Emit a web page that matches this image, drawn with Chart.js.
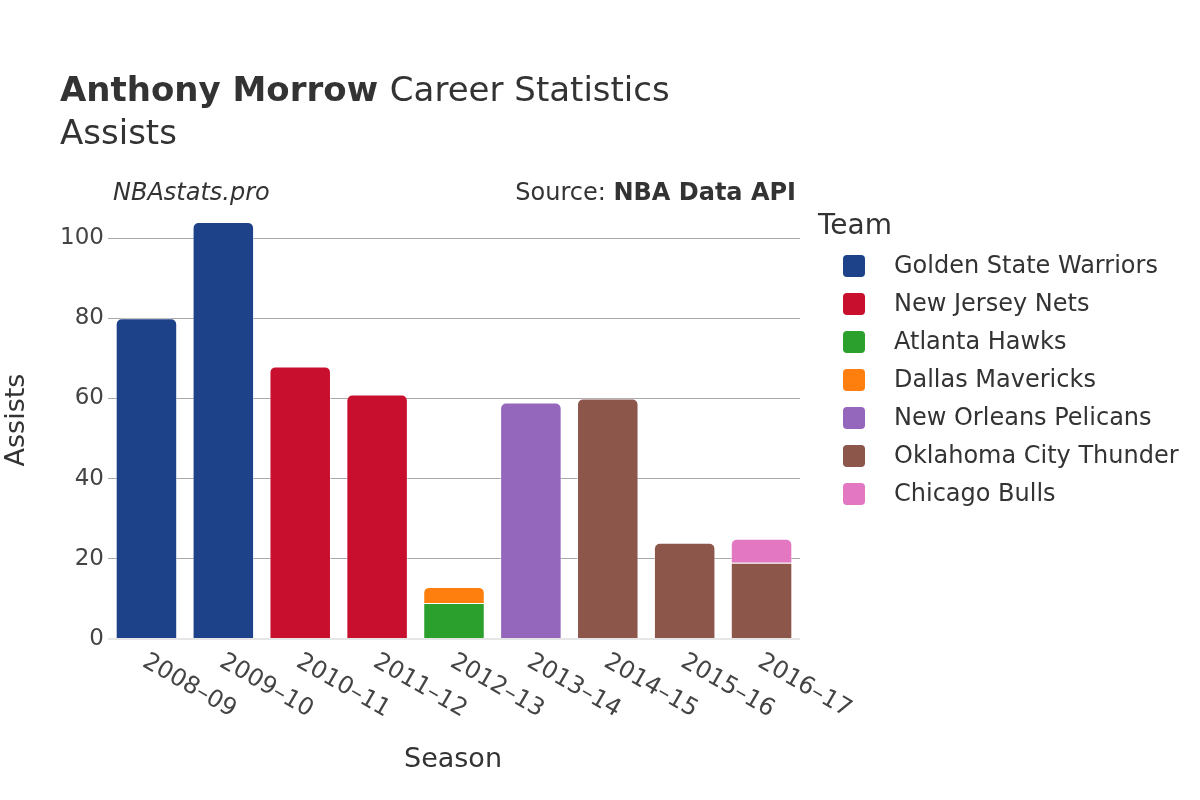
<!DOCTYPE html>
<html>
<head>
<meta charset="utf-8">
<script src="https://cdn.jsdelivr.net/npm/chart.js@4/dist/chart.umd.min.js"></script>
<style>
  html, body { margin: 0; background: #fff; }
</style>
</head>
<body>
<canvas id="chart" width="1200" height="800"></canvas>
<script>
const seasons = ['2008–09', '2009–10', '2010–11', '2011–12', '2012–13', '2013–14', '2014–15', '2015–16', '2016–17'];
const teams = ['Golden State Warriors', 'New Jersey Nets', 'Atlanta Hawks', 'Dallas Mavericks', 'New Orleans Pelicans', 'Oklahoma City Thunder', 'Chicago Bulls'];
const teamColors = ['#1d428a', '#c8102e', '#2ca02c', '#ff7f0e', '#9467bd', '#8c564b', '#e377c2'];

const warriors = [80, 104, null, null, null, null, null, null, null];
const nets = [null, null, 68, 61, null, null, null, null, null];
const hawks = [null, null, null, null, 9, null, null, null, null];
const mavericks = [null, null, null, null, 4, null, null, null, null];
const pelicans = [null, null, null, null, null, 59, null, null, null];
const thunder = [null, null, null, null, null, null, 60, 24, 19];
const bulls = [null, null, null, null, null, null, null, null, 6];

const yTicks = [0, 20, 40, 60, 80, 100];
const seriesValues = [warriors, nets, hawks, mavericks, pelicans, thunder, bulls];

const FONT = 'DejaVu Sans';
const TEXT = '#333';

const datasets = teams.map((team, i) => ({
    label: team,
    data: seriesValues[i],
    backgroundColor: teamColors[i],
    borderColor: 'rgba(255,255,255,0.45)',
    borderWidth: 1,
    borderRadius: 6,
    borderSkipped: 'start',
    barPercentage: 0.8,
    categoryPercentage: 1
}));

const decor = {
    id: 'decor',
    afterDraw(chart) {
        const c = chart.ctx;
        const xs = chart.scales.x;
        c.save();
        c.fillStyle = TEXT;
        c.textBaseline = 'alphabetic';

        // title
        c.textAlign = 'left';
        c.font = 'bold 34px "' + FONT + '"';
        c.fillText('Anthony Morrow', 60, 101);
        const w = c.measureText('Anthony Morrow ').width;
        c.font = '34px "' + FONT + '"';
        c.fillText('Career Statistics', 60 + w, 101);
        c.fillText('Assists', 60, 144);

        // credits
        c.font = 'italic 24px "' + FONT + '"';
        c.fillText('NBAstats.pro', 113, 200);
        c.textAlign = 'right';
        c.font = 'bold 24px "' + FONT + '"';
        c.fillText('NBA Data API', 796, 200);
        const bw = c.measureText('NBA Data API').width;
        c.font = '24px "' + FONT + '"';
        c.fillText('Source: ', 796 - bw, 200);

        // x tick labels, rotated clockwise
        c.font = '24px "' + FONT + '"';
        c.fillStyle = '#444';
        c.textAlign = 'left';
        c.textBaseline = 'middle';
        seasons.forEach((s, i) => {
            const px = xs.getPixelForTick(i);
            c.save();
            c.translate(px - 2, 660);
            c.rotate(Math.PI / 6);
            c.fillText(s, 0, 0);
            c.restore();
        });

        // axis titles
        c.fillStyle = TEXT;
        c.font = '27px "' + FONT + '"';
        c.textAlign = 'center';
        c.textBaseline = 'middle';
        c.fillText('Season', 453, 760);
        c.save();
        c.translate(17, 420);
        c.rotate(-Math.PI / 2);
        c.fillText('Assists', 0, 0);
        c.restore();

        // legend
        c.textAlign = 'left';
        c.font = '28px "' + FONT + '"';
        c.fillText('Team', 818, 227);
        c.font = '24px "' + FONT + '"';
        teams.forEach((t, i) => {
            const cy = 266 + i * 38;
            c.beginPath();
            c.roundRect(843, cy - 11, 22, 22, 4);
            c.fillStyle = teamColors[i];
            c.fill();
            c.fillStyle = TEXT;
            c.fillText(t, 894, cy + 1);
        });
        c.restore();
    }
};

new Chart(document.getElementById('chart'), {
    type: 'bar',
    data: { labels: seasons, datasets: datasets },
    options: {
        responsive: false,
        animation: false,
        layout: { padding: { left: 0, right: 400, top: 200, bottom: 0 } },
        plugins: {
            legend: { display: false },
            tooltip: { enabled: false }
        },
        scales: {
            x: {
                stacked: true,
                grid: { display: false },
                border: { display: false },
                ticks: { display: false },
                afterFit(scale) { scale.height = 161; }
            },
            y: {
                stacked: true,
                min: 0,
                max: 109.5,
                border: { display: false },
                afterFit(scale) { scale.width = 108; },
                afterBuildTicks(scale) {
                    scale.ticks = yTicks.map(v => ({ value: v }));
                },
                grid: {
                    drawTicks: false,
                    color: ctx => ctx.tick && ctx.tick.value === 0 ? '#e6e6e6' : '#a8a8a8',
                    lineWidth: ctx => ctx.tick && ctx.tick.value === 0 ? 2 : 1
                },
                ticks: {
                    padding: 4,
                    color: '#444',
                    font: { family: FONT, size: 23 }
                }
            }
        }
    },
    plugins: [decor]
});
</script>
</body>
</html>
